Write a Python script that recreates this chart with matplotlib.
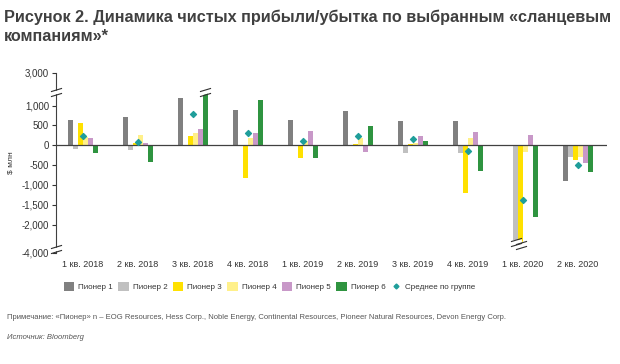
import numpy as np
import matplotlib
matplotlib.use('Agg')
import matplotlib.pyplot as plt
from matplotlib.path import Path
from matplotlib.lines import Line2D
from matplotlib.patches import Patch

plt.rcParams['font.family'] = ['Liberation Sans', 'DejaVu Sans']

# data ($ mln)
quarters = ['1 кв. 2018', '2 кв. 2018', '3 кв. 2018', '4 кв. 2018', '1 кв. 2019',
            '2 кв. 2019', '3 кв. 2019', '4 кв. 2019', '1 кв. 2020', '2 кв. 2020']
pioneer_1 = [640, 700, 1190, 890, 630, 850, 620, 620, 0, -900]
pioneer_2 = [-100, -130, 10, -10, -10, -10, -200, -200, -3100, -300]
pioneer_3 = [550, 60, 230, -820, -320, 30, 20, -1200, -3300, -380]
pioneer_4 = [200, 250, 315, 190, 110, 180, 60, 190, -170, -300]
pioneer_5 = [180, 60, 410, 310, 350, -170, 230, 340, 270, -440]
pioneer_6 = [-190, -410, 2600, 1150, -320, 480, 110, -640, -1810, -680]
group_avg = [240, 85, 790, 310, 110, 237, 150, -143, -1370, -495]

series_names = ['Пионер 1', 'Пионер 2', 'Пионер 3', 'Пионер 4', 'Пионер 5', 'Пионер 6']
series_colors = ['#808080', '#c0c0c0', '#ffe100', '#fff08a', '#c898c8', '#2f9440']
avg_name = 'Среднее по группе'
avg_color = '#1f9e9a'

yticks = [3000, 1000, 500, 0, -500, -1000, -1500, -2000, -4000]

# broken axis: piecewise linear scale (value -> drawn position)
knots_val = [-4000, -3600, -2000, 1250, 2800, 3000]
knots_pos = [-2713, -2560, -2000, 1250, 1340, 1819]


def fwd(v):
    return np.interp(v, knots_val, knots_pos)


def inv(p):
    return np.interp(p, knots_pos, knots_val)


break_marker = Path([(-1, -0.75), (1, -0.15), (-1, 0.15), (1, 0.75)],
                    [Path.MOVETO, Path.LINETO, Path.MOVETO, Path.LINETO])
gap_marker = Path([(-1, -0.3), (1, 0.3)], [Path.MOVETO, Path.LINETO])


def draw_break(ax, x, y, transform=None, size=9):
    kw = {} if transform is None else {'transform': transform}
    ax.plot([x], [y], marker=gap_marker, markersize=size, mew=2.5, color='white',
            zorder=5, clip_on=False, **kw)
    ax.plot([x], [y], marker=break_marker, markersize=size, mew=0.8, color='#303030',
            zorder=6, clip_on=False, **kw)


fig = plt.figure(figsize=(6.2, 3.64), dpi=100)
ax = fig.add_axes([0.0903, 0.305, 0.889, 0.4945])
ax.set_yscale('function', functions=(fwd, inv))

data = [pioneer_1, pioneer_2, pioneer_3, pioneer_4, pioneer_5, pioneer_6]
x = np.arange(len(quarters))
width = 0.09
for i, (vals, color) in enumerate(zip(data, series_colors)):
    xs = x + (i - 2.5) * width
    ax.bar(xs, vals, width=width, color=color, zorder=2)
    for xi, v in zip(xs, vals):
        # bars running past the axis breaks get their own break marks
        if v > 1300:
            draw_break(ax, xi, v, size=8)
        elif v < -2500:
            draw_break(ax, xi, v - 150, size=8)

ax.scatter(x, group_avg, marker='D', s=9, color=avg_color, zorder=4)

ax.axhline(0, color='#404040', lw=0.9, zorder=3)
ax.set_xlim(-0.49, 9.53)
ax.set_ylim(-4000, 3000)
ax.set_yticks(yticks)
ax.set_yticklabels([f'{t:,}' for t in yticks])
ax.set_xticks(x)
ax.set_xticklabels(quarters)
ax.tick_params(axis='x', length=0, labelsize=6.5, colors='#333333', pad=5)
ax.tick_params(axis='y', length=3, width=0.8, labelsize=7, colors='#333333', pad=2)
for s in ['top', 'right', 'bottom']:
    ax.spines[s].set_visible(False)
ax.spines['left'].set_color('#404040')
ax.spines['left'].set_linewidth(0.8)
ax.set_ylabel('$ млн', fontsize=6, color='#333333', labelpad=5)

# axis breaks
yax = ax.get_yaxis_transform()
draw_break(ax, 0, 2700, transform=yax, size=8)
draw_break(ax, 0, -3750, transform=yax, size=8)

handles = [Patch(facecolor=c, edgecolor='none') for c in series_colors]
handles.append(Line2D([], [], marker='D', ls='none', color=avg_color, markersize=2.5))
fig.legend(handles, series_names + [avg_name], loc='center', bbox_to_anchor=(0.435, 0.212),
           ncol=7, frameon=False, fontsize=5.8, handlelength=1.3, handleheight=1.3,
           handletextpad=0.5, columnspacing=0.65, labelcolor='#333333')

fig.text(0.006, 0.975, 'Рисунок 2. Динамика чистых прибыли/убытка по выбранным «сланцевым\nкомпаниям»*',
         fontsize=11.7, fontweight='bold', color='#404040', va='top', ha='left', linespacing=1.4)
fig.text(0.011, 0.127, 'Примечание: «Пионер» n – EOG Resources, Hess Corp., Noble Energy, Continental Resources, '
         'Pioneer Natural Resources, Devon Energy Corp.', fontsize=5.5, color='#555555', va='center')
fig.text(0.011, 0.073, 'Источник: Bloomberg', fontsize=5.5, color='#555555', va='center', style='italic')

fig.savefig('out.png', dpi=100, facecolor='white')
